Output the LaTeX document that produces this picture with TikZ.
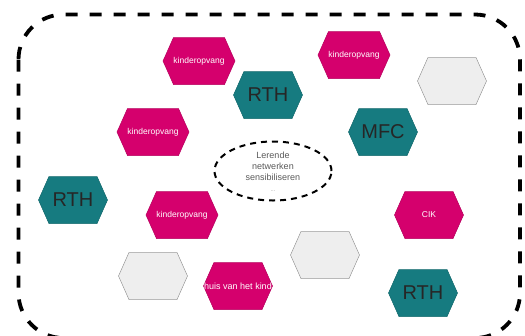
\documentclass[tikz,border=0pt]{standalone}
\usepackage{fontspec}
\setmainfont{Liberation Sans}
\usepackage{tikz}
\usetikzlibrary{shapes.symbols}
\definecolor{roze}{HTML}{D5006D}
\definecolor{petrol}{HTML}{167B80}
\definecolor{licht}{HTML}{EEEEEE}
\tikzstyle{hexa}=[signal, signal to=east and west, signal pointer angle=132, minimum width=69pt, minimum height=47pt, inner sep=0pt, line width=0.5pt]
\tikzstyle{partner}=[hexa, fill=roze, draw=roze!85!black, text=white, font=\fontsize{8.5}{10}\selectfont]
\tikzstyle{rth}=[hexa, fill=petrol, draw=petrol!85!black, text=black!85, font=\fontsize{20}{22}\selectfont]
\tikzstyle{leeg}=[hexa, fill=licht, draw=black!40]

\begin{document}
\begin{tikzpicture}[x=1pt, y=-1pt]
                    \useasboundingbox (0,0) rectangle (525,335);
                    \clip (0,0) rectangle (525,335);
                    \draw[line width=3.8pt, dash pattern=on 12pt off 12pt, rounded corners=45pt] (18.5,14.5) rectangle (520,338);
                    \node[partner] (k1) at (199, 61)  {kinderopvang};
                    \node[rth]     (r1) at (268, 95)  {RTH};
                    \node[partner] (k2) at (354, 55)  {kinderopvang};
                    \node[leeg]    (g1) at (452, 81)  {};
                    \node[partner] (k3) at (153,132)  {kinderopvang};
                    \node[rth]     (m1) at (383,132)  {MFC};
                    \node[rth]     (r2) at ( 73,200)  {RTH};
                    \node[partner] (k4) at (182,215)  {kinderopvang};
                    \node[partner] (c1) at (429,215)  {CIK};
                    \node[leeg]    (g2) at (325,255)  {};
                    \node[leeg]    (g3) at (153,276)  {};
                    \node[partner, font=\fontsize{9}{10}\selectfont] (h1) at (238,286) {\makebox[0pt]{huis van het kind}};
                    \node[rth]     (r3) at (423,293)  {RTH};
                    \draw[line width=2pt, dash pattern=on 6pt off 5pt] (273,171) ellipse (58.5pt and 29.5pt);
                    \node[align=center, text=black!65, font=\fontsize{9}{11}\selectfont] (ln) at (273,172) {Lerende\\netwerken\\sensibiliseren\\{\fontsize{6}{7}\selectfont\color{black!35}...}};
                \end{tikzpicture}
\end{document}
